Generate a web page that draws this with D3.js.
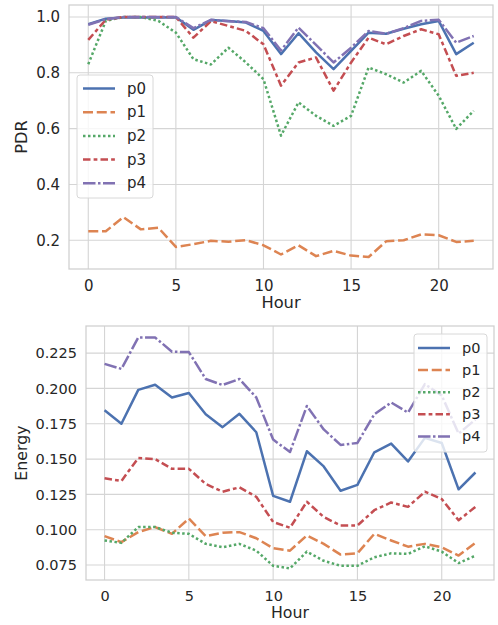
<!DOCTYPE html>
<html>
<head>
<meta charset="utf-8">
<script src="https://cdn.jsdelivr.net/npm/d3@7"></script>
<style>
  html, body { margin: 0; padding: 0; background: #ffffff; }
  svg { display: block; }
  text { font-family: "DejaVu Sans", sans-serif; fill: #262626; }
</style>
</head>
<body>
<svg id="chart" width="498" height="625"></svg>
<script>
// Hours of the day (x axis for both panels)
const hours = d3.range(0, 23);
const seriesNames = ["p0", "p1", "p2", "p3", "p4"];

// Packet delivery ratio per hour
const pdrP0 = [0.974, 0.994, 0.998, 0.998, 0.998, 0.999, 0.954, 0.989, 0.986, 0.980, 0.950, 0.867, 0.942, 0.873, 0.813, 0.879, 0.944, 0.940, 0.958, 0.974, 0.986, 0.867, 0.908];
const pdrP1 = [0.232, 0.232, 0.283, 0.239, 0.245, 0.176, 0.186, 0.198, 0.195, 0.200, 0.182, 0.149, 0.182, 0.143, 0.162, 0.145, 0.140, 0.196, 0.200, 0.221, 0.218, 0.194, 0.198];
const pdrP2 = [0.831, 0.986, 1.000, 1.000, 0.986, 0.944, 0.849, 0.830, 0.890, 0.837, 0.777, 0.575, 0.694, 0.646, 0.610, 0.646, 0.819, 0.795, 0.765, 0.807, 0.718, 0.599, 0.664];
const pdrP3 = [0.918, 0.990, 1.000, 1.000, 1.000, 1.000, 0.926, 0.985, 0.968, 0.950, 0.902, 0.754, 0.837, 0.855, 0.736, 0.837, 0.926, 0.902, 0.932, 0.956, 0.938, 0.789, 0.800];
const pdrP4 = [0.972, 0.992, 1.000, 1.000, 1.000, 1.000, 0.960, 0.990, 0.985, 0.982, 0.960, 0.880, 0.962, 0.900, 0.837, 0.890, 0.950, 0.940, 0.960, 0.986, 0.990, 0.908, 0.932];

// Energy consumption per hour
const energyP0 = [0.1845, 0.1750, 0.1990, 0.2026, 0.1936, 0.1967, 0.1817, 0.1726, 0.1820, 0.1690, 0.1240, 0.1198, 0.1555, 0.1448, 0.1276, 0.1317, 0.1548, 0.1610, 0.1483, 0.1650, 0.1614, 0.1286, 0.1405];
const energyP1 = [0.0955, 0.0912, 0.0983, 0.1019, 0.0971, 0.1079, 0.0955, 0.0979, 0.0983, 0.0940, 0.0869, 0.0852, 0.0960, 0.0900, 0.0824, 0.0833, 0.0971, 0.0924, 0.0880, 0.0900, 0.0876, 0.0817, 0.0907];
const energyP2 = [0.0924, 0.0907, 0.1019, 0.1019, 0.0979, 0.0971, 0.0900, 0.0876, 0.0900, 0.0852, 0.0745, 0.0726, 0.0845, 0.0780, 0.0745, 0.0745, 0.0805, 0.0833, 0.0829, 0.0883, 0.0845, 0.0764, 0.0817];
const energyP3 = [0.1364, 0.1345, 0.1507, 0.1500, 0.1431, 0.1431, 0.1324, 0.1269, 0.1300, 0.1233, 0.1055, 0.1014, 0.1198, 0.1090, 0.1030, 0.1030, 0.1138, 0.1193, 0.1162, 0.1269, 0.1217, 0.1067, 0.1162];
const energyP4 = [0.2174, 0.2138, 0.2360, 0.2360, 0.2260, 0.2257, 0.2067, 0.2024, 0.2067, 0.1936, 0.1638, 0.1550, 0.1876, 0.1710, 0.1600, 0.1614, 0.1817, 0.1900, 0.1829, 0.2030, 0.1950, 0.1680, 0.1780];

const xTicks = [0, 5, 10, 15, 20];
const pdrTicks = [0.2, 0.4, 0.6, 0.8, 1.0];
const energyTicks = [0.075, 0.100, 0.125, 0.150, 0.175, 0.200, 0.225];

const colors = ["#4C72B0", "#DD8452", "#55A868", "#C44E52", "#8172B3"];
const lw = 2.5;
const dashes = ["", [4, 1.5], [1, 1], [3, 1.25, 1.5, 1.25], [5, 1, 1, 1]]
  .map(d => d === "" ? null : d.map(v => v * lw).join(","));

const svg = d3.select("#chart");

// Axis limits with 5% padding on each side of the data range
function padded(values) {
  const [lo, hi] = d3.extent(values);
  const m = (hi - lo) * 0.05;
  return [lo - m, hi + m];
}

function panel(cfg) {
  const { box, series, yTicks, yFmt, yLabel, fontSize, legend } = cfg;
  const g = svg.append("g");
  const x = d3.scaleLinear().domain(padded(hours)).range([box.left, box.right]);
  const y = d3.scaleLinear().domain(padded(series.flat())).range([box.bottom, box.top]);

  // grid
  g.append("g").selectAll("line.vx").data(xTicks).join("line")
    .attr("x1", d => x(d)).attr("x2", d => x(d))
    .attr("y1", box.top).attr("y2", box.bottom)
    .attr("stroke", "#d5d5d5").attr("stroke-width", 1.1);
  g.append("g").selectAll("line.hy").data(yTicks).join("line")
    .attr("y1", d => y(d)).attr("y2", d => y(d))
    .attr("x1", box.left).attr("x2", box.right)
    .attr("stroke", "#d5d5d5").attr("stroke-width", 1.1);

  // frame
  g.append("rect")
    .attr("x", box.left).attr("y", box.top)
    .attr("width", box.right - box.left).attr("height", box.bottom - box.top)
    .attr("fill", "none").attr("stroke", "#cfcfcf").attr("stroke-width", 1.25);

  // tick labels via d3 axes (tick lines hidden)
  const xa = g.append("g").attr("transform", `translate(0,${box.bottom})`)
    .call(d3.axisBottom(x).tickValues(xTicks).tickFormat(d3.format("d")).tickSize(0).tickPadding(cfg.xPad));
  const ya = g.append("g").attr("transform", `translate(${box.left},0)`)
    .call(d3.axisLeft(y).tickValues(yTicks).tickFormat(yFmt).tickSize(0).tickPadding(cfg.yPad));
  [xa, ya].forEach(a => {
    a.select(".domain").remove();
    a.selectAll("text").style("font-family", "DejaVu Sans, sans-serif")
      .style("font-size", fontSize + "px").attr("fill", "#262626");
  });

  // axis titles
  g.append("text").attr("x", (box.left + box.right) / 2).attr("y", cfg.xLabelY)
    .attr("text-anchor", "middle").style("font-size", (fontSize + 1.3) + "px").text("Hour");
  g.append("text")
    .attr("transform", `translate(${cfg.yLabelX},${(box.top + box.bottom) / 2}) rotate(-90)`)
    .attr("text-anchor", "middle").style("font-size", (fontSize + 1.3) + "px").text(yLabel);

  // series lines
  const line = d3.line().x((d, i) => x(hours[i])).y(d => y(d));
  series.forEach((vals, k) => {
    g.append("path").datum(vals)
      .attr("d", line)
      .attr("fill", "none")
      .attr("stroke", colors[k])
      .attr("stroke-width", lw)
      .attr("stroke-linejoin", "round")
      .attr("stroke-dasharray", dashes[k]);
  });

  // legend
  const lg = g.append("g");
  lg.append("rect")
    .attr("x", legend.x).attr("y", legend.y)
    .attr("width", legend.w).attr("height", legend.h)
    .attr("rx", 3).attr("fill", "#ffffff").attr("fill-opacity", 0.8)
    .attr("stroke", "#d8d8d8").attr("stroke-width", 1);
  seriesNames.forEach((name, k) => {
    const cy = legend.firstY + k * legend.step;
    lg.append("line")
      .attr("x1", legend.lineX1).attr("x2", legend.lineX2)
      .attr("y1", cy).attr("y2", cy)
      .attr("stroke", colors[k]).attr("stroke-width", lw)
      .attr("stroke-dasharray", dashes[k]);
    lg.append("text").attr("x", legend.textX).attr("y", cy)
      .attr("dominant-baseline", "central")
      .style("font-size", fontSize + "px").text(name);
  });
}

panel({
  box: { left: 69, right: 493, top: 5, bottom: 269 },
  series: [pdrP0, pdrP1, pdrP2, pdrP3, pdrP4],
  yTicks: pdrTicks, yFmt: d3.format(".1f"), yLabel: "PDR",
  fontSize: 15, xPad: 11, yPad: 9, xLabelY: 308, yLabelX: 27,
  legend: { x: 77, y: 75, w: 76, h: 123, firstY: 88.5, step: 23.7,
            lineX1: 83, lineX2: 115, textX: 127 }
});

panel({
  box: { left: 86, right: 494, top: 326, bottom: 580 },
  series: [energyP0, energyP1, energyP2, energyP3, energyP4],
  yTicks: energyTicks, yFmt: d3.format(".3f"), yLabel: "Energy",
  fontSize: 14.5, xPad: 11, yPad: 9, xLabelY: 618, yLabelX: 27,
  legend: { x: 414, y: 334, w: 73, h: 118, firstY: 348, step: 22.1,
            lineX1: 418, lineX2: 450, textX: 462 }
});
</script>
</body>
</html>
